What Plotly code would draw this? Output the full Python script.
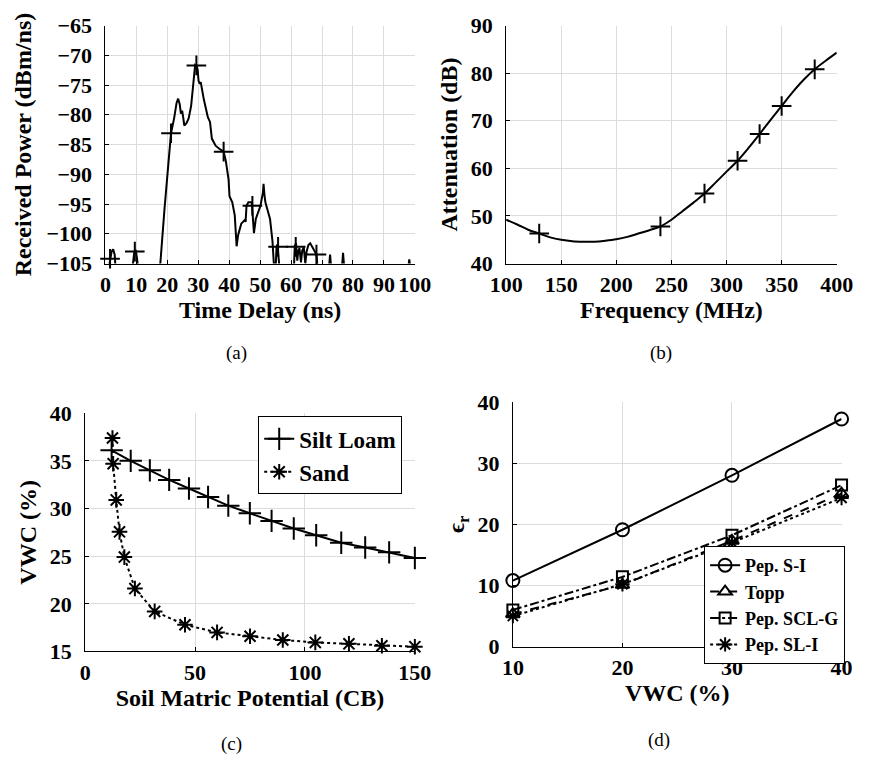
import plotly.graph_objects as go

W, H = 872, 767
FONT = "Liberation Serif"

# ---------------- Panel (a): received power vs time delay ----------------
a_time = [1.0, 1.5, 2.0, 2.5, 3.0, 3.3,
          8.7, 9.3, 9.8, 10.3, 10.6,
          17.6, 18.3, 19.1, 20.3, 21.2, 22.2, 23.0, 23.5, 24.0, 24.4, 24.8, 25.1, 25.5,
          26.2, 26.9, 27.7, 28.4, 29.0, 29.4, 29.8, 30.1, 30.5, 30.8, 31.8, 33.1, 33.5,
          33.8, 34.4, 35.6, 36.8, 38.2, 38.9, 39.8, 40.1, 41.0, 41.8, 42.1, 42.4, 42.9,
          43.9, 45.0, 45.3, 45.6, 46.2, 47.3, 47.7, 48.0, 48.6, 50.1, 50.9, 51.1, 51.4,
          51.7, 53.2, 54.0, 54.4, 54.6,
          55.0, 55.3, 55.6, 56.0, 56.3,
          60.9, 61.2, 61.6, 62.0, 62.3, 62.7, 63.2, 63.6, 64.1, 64.6, 65.0, 65.6, 66.2,
          66.8, 67.4, 68.2, 68.6,
          72.2, 72.6, 73.0,
          76.4, 76.8, 77.2,
          97.8, 98.2, 98.6]
a_power = [-106, -104.2, -103.0, -102.6, -103.5, -106,
           -106, -103.2, -102.7, -104.5, -106,
           -106, -101, -95.8, -88.5, -83.1, -80.6, -78.0, -77.3, -78.2, -79.8, -79.3, -80.3, -81.8,
           -81.4, -80.6, -78.5, -74.1, -71.6, -71.7, -72.4, -74.3, -74.8, -74.5, -77.4, -80.4, -81.0,
           -81.2, -84.0, -85.2, -85.7, -86.2, -87.7, -90.9, -93.7, -94.7, -96.9, -100.0, -102.1, -100.2,
           -98.3, -97.7, -98.0, -95.3, -94.7, -94.7, -97.0, -99.9, -97.5, -95.3, -93.1, -91.6, -93.5,
           -94.7, -97.5, -101.3, -104.8, -106,
           -106, -102.2, -101.8, -103.5, -106,
           -106, -102.0, -101.6, -104.5, -103.0, -102.4, -104.8, -102.8, -102.3, -105.0, -103.0, -101.9, -101.6,
           -102.2, -102.8, -103.5, -106,
           -106, -103.5, -106,
           -106, -103.2, -106,
           -106, -104.3, -106]
a_mark_time = [1.5, 9.5, 21.2, 29.4, 38.2, 47.5, 55.8, 61.5, 68.2]
a_mark_power = [-104.2, -103.0, -83.1, -71.7, -86.2, -95.3, -102.2, -102.2, -103.5]

# ---------------- Panel (b): attenuation vs frequency ----------------
b_freq = [100, 110, 120, 130, 140, 150, 160, 170, 180, 190, 200, 210, 220, 230, 240, 250,
          260, 270, 280, 290, 300, 310, 320, 330, 340, 350, 360, 370, 380, 390, 400]
b_att = [49.2, 48.2, 47.1, 46.3, 45.5, 45.0, 44.7, 44.6, 44.6, 44.8, 45.1, 45.6, 46.3, 47.0, 47.8, 49.2,
         51.0, 52.8, 54.7, 57.0, 59.3, 61.6, 64.3, 67.2, 70.2, 73.1, 76.0, 78.6, 80.8, 82.6, 84.3]
b_mark_freq = [130, 240, 280, 310, 330, 350, 380]
b_mark_att = [46.3, 47.8, 54.7, 61.6, 67.2, 73.1, 80.8]

# ---------------- Panel (c): VWC vs soil matric potential ----------------
c_silt_x = [12, 20.7, 29.4, 38.2, 47.2, 55.9, 65.1, 74.9, 84.8, 94.9, 105.1, 116.5, 127.4, 138.3, 150]
c_silt_y = [36.1, 35.0, 34.0, 33.0, 32.1, 31.2, 30.3, 29.5, 28.7, 27.9, 27.2, 26.4, 25.9, 25.4, 24.8]
c_sand_x = [12.4, 12.7, 14.1, 15.6, 17.8, 22.6, 31.6, 45.4, 60, 75, 89.9, 104.7, 120, 135, 150]
c_sand_y = [37.4, 34.7, 30.9, 27.55, 24.9, 21.6, 19.2, 17.8, 17.0, 16.6, 16.2, 15.95, 15.8, 15.6, 15.5]

# ---------------- Panel (d): permittivity vs VWC ----------------
d_vwc = [10, 20, 30, 40]
d_si = [10.8, 19.1, 28.0, 37.2]
d_topp = [5.3, 10.1, 17.3, 25.0]
d_sclg = [6.0, 11.4, 18.2, 26.4]
d_sli = [5.0, 10.2, 17.0, 24.3]

a_xticks = list(range(0, 101, 10))
a_yticks = list(range(-105, -64, 5))
b_xticks = list(range(100, 401, 50))
b_yticks = list(range(40, 91, 10))
c_xticks = [0, 50, 100, 150]
c_yticks = [15, 20, 25, 30, 35, 40]
d_xticks = [10, 20, 30, 40]
d_yticks = [0, 10, 20, 30, 40]


def bfont(size):
    return dict(family=FONT, size=size, color="black", weight="bold")


def dx(l, r):
    return [l / W, r / W]


def dy(top, bot):
    return [1 - bot / H, 1 - top / H]


def axis(domain, rng, tickvals, title, anchor, standoff, tlsoff):
    return dict(
        domain=domain, range=rng, tickvals=tickvals, anchor=anchor,
        showgrid=True, gridcolor="#dcdcdc", gridwidth=1,
        showline=True, linecolor="black", linewidth=1, mirror=False,
        ticks="inside", ticklen=4, tickcolor="black", zeroline=False,
        ticklabelstandoff=tlsoff,
        tickfont=bfont(22),
        title=dict(text=title, standoff=standoff, font=bfont(24)),
    )


fig = go.Figure()
BLK = "black"

# (a)
fig.add_trace(go.Scatter(x=a_time, y=a_power, mode="lines", line=dict(color=BLK, width=2),
                         xaxis="x", yaxis="y", showlegend=False))
fig.add_trace(go.Scatter(x=a_mark_time, y=a_mark_power, mode="markers", cliponaxis=False,
                         marker=dict(symbol="cross-thin", size=14, line=dict(color=BLK, width=2)),
                         xaxis="x", yaxis="y", showlegend=False))
# (b)
fig.add_trace(go.Scatter(x=b_freq, y=b_att, mode="lines", line=dict(color=BLK, width=2, shape="spline"),
                         xaxis="x2", yaxis="y2", showlegend=False))
fig.add_trace(go.Scatter(x=b_mark_freq, y=b_mark_att, mode="markers", cliponaxis=False,
                         marker=dict(symbol="cross-thin", size=14, line=dict(color=BLK, width=2)),
                         xaxis="x2", yaxis="y2", showlegend=False))
# (c)
fig.add_trace(go.Scatter(x=c_silt_x, y=c_silt_y, mode="lines+markers", name="Silt Loam", cliponaxis=False,
                         line=dict(color=BLK, width=2),
                         marker=dict(symbol="cross-thin", size=16, line=dict(color=BLK, width=2)),
                         xaxis="x3", yaxis="y3", legend="legend"))
fig.add_trace(go.Scatter(x=c_sand_x, y=c_sand_y, mode="lines+markers", name="Sand", cliponaxis=False,
                         line=dict(color=BLK, width=2, dash="dot"),
                         marker=dict(symbol="asterisk-open", size=13, line=dict(color=BLK, width=2)),
                         xaxis="x3", yaxis="y3", legend="legend"))
# (d)
fig.add_trace(go.Scatter(x=d_vwc, y=d_si, mode="lines+markers", name="Pep. S-I", cliponaxis=False,
                         line=dict(color=BLK, width=2),
                         marker=dict(symbol="circle-open", size=13, color=BLK, line=dict(color=BLK, width=2)),
                         xaxis="x4", yaxis="y4", legend="legend2"))
fig.add_trace(go.Scatter(x=d_vwc, y=d_topp, mode="lines+markers", name="Topp", cliponaxis=False,
                         line=dict(color=BLK, width=2, dash="dash"),
                         marker=dict(symbol="triangle-up-open", size=12, color=BLK, line=dict(color=BLK, width=2)),
                         xaxis="x4", yaxis="y4", legend="legend2"))
fig.add_trace(go.Scatter(x=d_vwc, y=d_sclg, mode="lines+markers", name="Pep. SCL-G", cliponaxis=False,
                         line=dict(color=BLK, width=2, dash="dashdot"),
                         marker=dict(symbol="square-open", size=11, color=BLK, line=dict(color=BLK, width=2)),
                         xaxis="x4", yaxis="y4", legend="legend2"))
fig.add_trace(go.Scatter(x=d_vwc, y=d_sli, mode="lines+markers", name="Pep. SL-I", cliponaxis=False,
                         line=dict(color=BLK, width=2, dash="dot"),
                         marker=dict(symbol="asterisk-open", size=12, color=BLK, line=dict(color=BLK, width=2)),
                         xaxis="x4", yaxis="y4", legend="legend2"))

cap_font = dict(family=FONT, size=19, color="black")


def cap(t, x, y):
    return dict(text=t, x=x / W, y=1 - y / H, xref="paper", yref="paper", showarrow=False,
                xanchor="center", yanchor="middle", font=cap_font)


annotations = [cap("(a)", 228, 352), cap("(b)", 670, 352), cap("(c)", 223, 757), cap("(d)", 668, 753)]

fig.update_layout(
    width=W, height=H, margin=dict(l=0, r=0, t=0, b=0),
    paper_bgcolor="white", plot_bgcolor="white",
    font=dict(family=FONT, color="black"),
    xaxis=axis(dx(92, 414), [0, 100], a_xticks, "Time Delay (ns)", "y", 4, 1),
    yaxis=axis(dy(14, 260), [-105, -65], a_yticks, "Received Power (dBm/ns)", "x", 8, 8),
    xaxis2=axis(dx(509, 853), [100, 400], b_xticks, "Frequency (MHz)", "y2", 4, 1),
    yaxis2=axis(dy(14, 260), [40, 90], b_yticks, "Attenuation (dB)", "x2", 6, 8),
    xaxis3=axis(dx(71, 414), [0, 150], c_xticks, "Soil Matric Potential (CB)", "y3", 4, 1),
    yaxis3=axis(dy(414.7, 661), [15, 40], c_yticks, "VWC (%)", "x3", 6, 8),
    xaxis4=axis(dx(516, 858), [10, 40], d_xticks, "VWC (%)", "y4", 4, 1),
    yaxis4=axis(dy(403, 656), [0, 40], d_yticks, "ϵ<sub>r</sub>", "x4", 6, 8),
    legend=dict(x=251 / W, y=1 - 418 / H, xanchor="left", yanchor="top",
                bgcolor="white", bordercolor="black", borderwidth=1,
                font=bfont(23), itemwidth=30, tracegroupgap=0),
    legend2=dict(x=715 / W, y=1 - 552 / H, xanchor="left", yanchor="top",
                 bgcolor="white", bordercolor="black", borderwidth=1,
                 font=bfont(18), itemwidth=30, tracegroupgap=0),
    annotations=annotations,
)

fig.write_html("out.html")
